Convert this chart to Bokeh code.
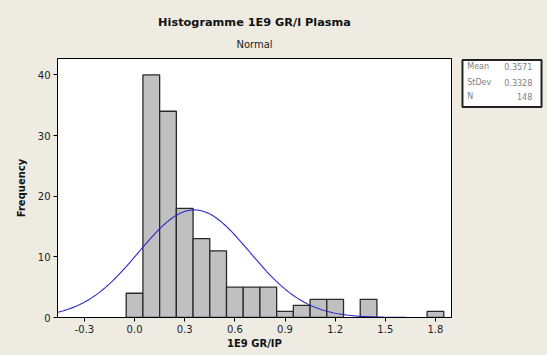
import numpy as np
from bokeh.plotting import figure
from bokeh.layouts import row
from bokeh.models import FixedTicker, Title, ColumnDataSource
from bokeh.core.properties import value
from bokeh.embed import file_html
from bokeh.resources import INLINE

# ---- data ----
bin_centers = [0.0, 0.1, 0.2, 0.3, 0.4, 0.5, 0.6, 0.7, 0.8, 0.9,
               1.0, 1.1, 1.2, 1.3, 1.4, 1.5, 1.6, 1.7, 1.8]
counts = [4, 40, 34, 18, 13, 11, 5, 5, 5, 1,
          2, 3, 3, 0, 3, 0, 0, 0, 1]
bin_width = 0.1
mean = 0.3571
stdev = 0.3328
n_obs = 148
x_ticks = [-0.3, 0.0, 0.3, 0.6, 0.9, 1.2, 1.5, 1.8]
y_ticks = [0, 10, 20, 30, 40]
stat_names = ["Mean", "StDev", "N"]
stat_values = ["0.3571", "0.3328", "148"]

BG = "#eeebe3"
FONT = "DejaVu Sans"

xr = (-0.461, 1.896)
yr = (0, 42.7)

p = figure(width=452, height=355, x_range=xr, y_range=yr,
           output_backend="svg", toolbar_location=None,
           min_border_left=57, min_border_right=1,
           min_border_top=58, min_border_bottom=38)
p.background_fill_color = "white"
p.border_fill_color = BG
p.outline_line_color = "black"
p.outline_line_width = 1
p.xgrid.visible = False
p.ygrid.visible = False

# bars
bars = [(c, k) for c, k in zip(bin_centers, counts) if k > 0]
src = ColumnDataSource(dict(
    left=[c - bin_width / 2 for c, k in bars],
    right=[c + bin_width / 2 for c, k in bars],
    top=[k for c, k in bars]))
p.quad(left="left", right="right", bottom=0, top="top", source=src,
       fill_color="#c0c0c0", line_color="#2a2a2a", line_width=1.3)

# fitted normal curve (from the stated mean / stdev / N)
xs = np.linspace(xr[0], xr[1], 300)
ys = n_obs * bin_width / (stdev * np.sqrt(2 * np.pi)) * np.exp(-0.5 * ((xs - mean) / stdev) ** 2)
p.line(xs, ys, line_color="#2828c8", line_width=1.1)

# axes
for ax in (p.xaxis[0], p.yaxis[0]):
    ax.major_tick_in = 0
    ax.major_tick_out = 4
    ax.minor_tick_line_color = None
    ax.axis_line_color = "black"
    ax.major_tick_line_color = "black"
    ax.major_label_text_font = FONT
    ax.major_label_text_font_size = "10px"
    ax.major_label_text_color = "#222222"
    ax.axis_label_text_font = FONT
    ax.axis_label_text_font_size = "10px"
    ax.axis_label_text_font_style = "bold"
    ax.axis_label_text_color = "#111111"
p.xaxis.ticker = FixedTicker(ticks=x_ticks)
p.xaxis.major_label_overrides = {t: f"{t:.1f}" for t in x_ticks}
p.yaxis.ticker = FixedTicker(ticks=y_ticks)
p.xaxis.axis_label = "1E9 GR/IP"
p.yaxis.axis_label = "Frequency"
p.xaxis.major_label_standoff = 3
p.yaxis.major_label_standoff = 3
p.xaxis.axis_label_standoff = 2
p.yaxis.axis_label_standoff = 8

# titles
p.add_layout(Title(text="Normal", align="center", text_font=FONT,
                   text_font_size="10px", text_font_style="normal",
                   text_color="#222222", standoff=18), "above")
p.add_layout(Title(text="Histogramme 1E9 GR/l Plasma", align="center",
                   text_font=FONT, text_font_size="11.3px",
                   text_font_style="bold", text_color="#111111", standoff=-2), "above")

# stats box in a side panel sharing the same vertical frame
s = figure(width=95, height=355, x_range=(0, 1), y_range=yr,
           output_backend="svg", toolbar_location=None,
           min_border_left=0, min_border_right=0,
           min_border_top=58, min_border_bottom=38)
s.xaxis.visible = False
s.yaxis.visible = False
s.xgrid.visible = False
s.ygrid.visible = False
s.background_fill_color = BG
s.border_fill_color = BG
s.outline_line_color = None
s.quad(left=[0.105], right=[0.937], top=[42.45], bottom=[34.7],
       fill_color="white", line_color="#222222", line_width=2)
row_y = [41.4, 38.8, 36.5]
s.text(x=[0.155] * 3, y=row_y, text=stat_names, text_font=value(FONT),
       text_font_size="8px", text_color="#808080",
       text_baseline="middle", text_align="left")
s.text(x=[0.84] * 3, y=row_y, text=stat_values, text_font=value(FONT),
       text_font_size="8px", text_color="#808080",
       text_baseline="middle", text_align="right")

layout = row(p, s)
html = file_html(layout, INLINE)
html = html.replace("</head>", f"<style>html,body{{background:{BG} !important;}}</style></head>", 1)
open("out.html", "w").write(html)
